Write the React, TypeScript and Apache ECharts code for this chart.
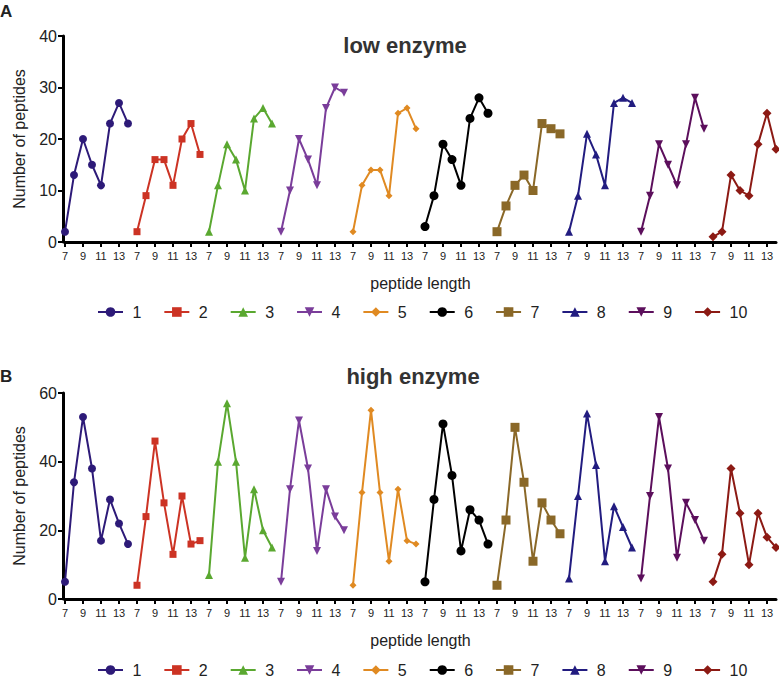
import React, { useEffect, useRef } from "react";
import * as echarts from "echarts";

const seriesNames = ["1", "2", "3", "4", "5", "6", "7", "8", "9", "10"];
const peptideLengths = [7, 8, 9, 10, 11, 12, 13, 14];

// low enzyme (panel A), one row per series, values for lengths 7..14
const lowEnzyme = [
  [2, 13, 20, 15, 11, 23, 27, 23],
  [2, 9, 16, 16, 11, 20, 23, 17],
  [2, 11, 19, 16, 10, 24, 26, 23],
  [2, 10, 20, 16, 11, 26, 30, 29],
  [2, 11, 14, 14, 9, 25, 26, 22],
  [3, 9, 19, 16, 11, 24, 28, 25],
  [2, 7, 11, 13, 10, 23, 22, 21],
  [2, 9, 21, 17, 11, 27, 28, 27],
  [2, 9, 19, 15, 11, 19, 28, 22],
  [1, 2, 13, 10, 9, 19, 25, 18],
];

// high enzyme (panel B)
const highEnzyme = [
  [5, 34, 53, 38, 17, 29, 22, 16],
  [4, 24, 46, 28, 13, 30, 16, 17],
  [7, 40, 57, 40, 12, 32, 20, 15],
  [5, 32, 52, 38, 14, 32, 24, 20],
  [4, 31, 55, 31, 11, 32, 17, 16],
  [5, 29, 51, 36, 14, 26, 23, 16],
  [4, 23, 50, 34, 11, 28, 23, 19],
  [6, 30, 54, 39, 11, 27, 21, 15],
  [6, 30, 53, 38, 12, 28, 23, 17],
  [5, 13, 38, 25, 10, 25, 18, 15],
];

const colors = [
  "#2d1a78",
  "#cc3324",
  "#5aa830",
  "#7a3d9a",
  "#e08a22",
  "#000000",
  "#8a6828",
  "#221c80",
  "#5c0f5c",
  "#8c1a14",
];
const symbols = ["circle", "rect", "triangle", "triangle", "diamond", "circle", "rect", "triangle", "triangle", "diamond"];
const rotations = [0, 0, 0, 180, 0, 0, 0, 0, 180, 0];
const symbolSizes = [8, 7, 8, 8, 7, 9, 9, 8, 8, 9];

const FONT = "Liberation Sans, Arial, Helvetica, sans-serif";

export default function App() {
  const ref = useRef<HTMLDivElement>(null);

  useEffect(() => {
    if (!ref.current) return;
    const chart = echarts.init(ref.current, undefined, { renderer: "svg" });

    const xCats: string[] = [];
    const xLabels: string[] = [];
    seriesNames.forEach((_, g) => {
      peptideLengths.forEach((L, k) => {
        xCats.push(String(g * 8 + k));
        xLabels.push(String(L));
      });
    });

    const buildData = (vals: number[], g: number) => {
      const arr: (number | string)[] = xCats.map(() => "-");
      vals.forEach((v, k) => {
        arr[g * 8 + k] = v;
      });
      return arr;
    };

    const makeSeries = (table: number[][], panel: number) =>
      table.map((vals, g) => ({
        name: seriesNames[g],
        type: "line",
        xAxisIndex: panel,
        yAxisIndex: panel,
        data: buildData(vals, g),
        connectNulls: false,
        symbol: symbols[g],
        symbolRotate: rotations[g],
        symbolSize: symbolSizes[g],
        showAllSymbol: true,
        color: colors[g],
        lineStyle: { width: 2, color: colors[g] },
        itemStyle: { color: colors[g] },
        emphasis: { disabled: true },
      }));

    const xAxisCommon = (gridIndex: number) => ({
      type: "category",
      gridIndex,
      data: xCats,
      boundaryGap: false,
      name: "peptide length",
      nameLocation: "middle",
      nameGap: 33,
      nameTextStyle: { fontSize: 16, color: "#222", fontFamily: FONT },
      axisLine: { lineStyle: { color: "#000", width: 3 } },
      axisTick: { interval: 1, length: 5, lineStyle: { color: "#000", width: 2 } },
      axisLabel: {
        interval: 1,
        margin: 8,
        fontSize: 11,
        color: "#222",
        fontFamily: FONT,
        formatter: (_v: string, i: number) => xLabels[i],
      },
      splitLine: { show: false },
    });

    const yAxisCommon = (gridIndex: number, max: number, interval: number) => ({
      type: "value",
      gridIndex,
      min: 0,
      max,
      interval,
      offset: 2,
      name: "Number of peptides",
      nameLocation: "middle",
      nameGap: 36,
      nameTextStyle: { fontSize: 16, color: "#222", fontFamily: FONT },
      axisLine: { show: true, lineStyle: { color: "#000", width: 3 } },
      axisTick: { show: true, length: 5, lineStyle: { color: "#000", width: 2 } },
      axisLabel: { fontSize: 16, color: "#222", fontFamily: FONT, margin: 6 },
      splitLine: { show: false },
    });

    const legendCommon = (top: number) => ({
      top,
      left: 97,
      width: 680,
      padding: 0,
      itemGap: 22,
      itemWidth: 25,
      itemHeight: 12,
      data: seriesNames,
      formatter: (name: string) => " " + name,
      textStyle: { fontSize: 16, color: "#222", fontFamily: FONT },
      selectedMode: false,
    });

    chart.setOption({
      animation: false,
      backgroundColor: "#fff",
      textStyle: { fontFamily: FONT },
      grid: [
        { left: 65, right: 3, top: 36, height: 206 },
        { left: 65, right: 3, top: 393, height: 206 },
      ],
      xAxis: [xAxisCommon(0), xAxisCommon(1)],
      yAxis: [yAxisCommon(0, 40, 10), yAxisCommon(1, 60, 20)],
      legend: [legendCommon(304), legendCommon(662)],
      graphic: [
        { type: "text", left: 0, top: 3, style: { text: "A", fontSize: 17, fontWeight: "bold", fill: "#222", fontFamily: FONT } },
        { type: "text", left: 0, top: 368, style: { text: "B", fontSize: 17, fontWeight: "bold", fill: "#222", fontFamily: FONT } },
        {
          type: "text",
          x: 405,
          y: 45,
          style: { text: "low enzyme", fontSize: 22, fontWeight: "bold", fill: "#333", fontFamily: FONT, align: "center", verticalAlign: "middle" },
        },
        {
          type: "text",
          x: 413,
          y: 376,
          style: { text: "high enzyme", fontSize: 22, fontWeight: "bold", fill: "#333", fontFamily: FONT, align: "center", verticalAlign: "middle" },
        },
      ],
      series: [...makeSeries(lowEnzyme, 0), ...makeSeries(highEnzyme, 1)],
    });

    return () => chart.dispose();
  }, []);

  return (
    <div
      ref={ref}
      style={{ position: "fixed", left: 0, top: 0, width: 779, height: 679, background: "#fff" }}
    />
  );
}
